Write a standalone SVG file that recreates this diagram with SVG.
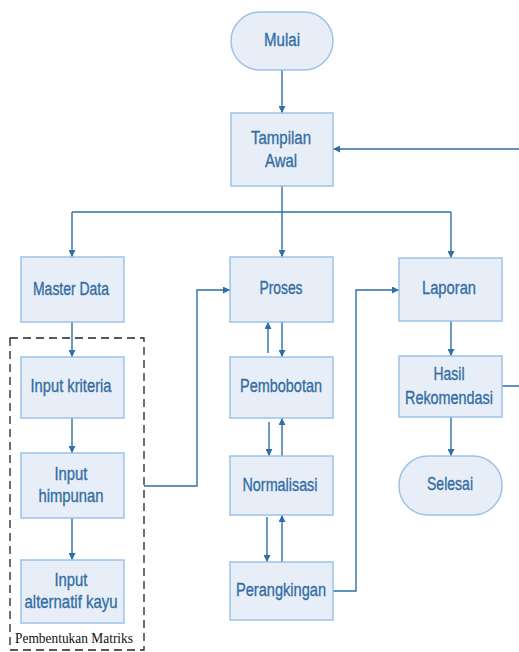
<svg xmlns="http://www.w3.org/2000/svg" width="519" height="652" viewBox="0 0 519 652">
<style>
.box{fill:#E7EEF8;stroke:#9CC2E8;stroke-width:1.5}
.t{font-family:"Liberation Sans",Arial,sans-serif;font-size:19px;fill:#336DA3;stroke:#336DA3;stroke-width:0.35;text-anchor:middle}
.c{fill:none;stroke:#2F6FA6;stroke-width:1.4}
.lbl{font-family:"Liberation Serif","Times New Roman",serif;font-size:15px;fill:#111}
</style>
<defs>
<marker id="ah" viewBox="0 0 10 10" refX="10" refY="5" markerWidth="7" markerHeight="7" markerUnits="userSpaceOnUse" orient="auto">
<path d="M0,0 L10,5 L0,10 z" fill="#2F6FA6"/>
</marker>
</defs>
<rect x="0" y="0" width="519" height="652" fill="#fff"/>
<g id="connectors">
<path class="c" d="M282,70 V113" marker-end="url(#ah)"/>
<path class="c" d="M282,186 V212"/>
<path class="c" d="M72,212 H451"/>
<path class="c" d="M72,212 V257" marker-end="url(#ah)"/>
<path class="c" d="M282,212 V257" marker-end="url(#ah)"/>
<path class="c" d="M451,212 V258" marker-end="url(#ah)"/>
<path class="c" d="M502,386 H522 V149 H333" marker-end="url(#ah)"/>
<path class="c" d="M72,322 V357" marker-end="url(#ah)"/>
<path class="c" d="M72,418 V453" marker-end="url(#ah)"/>
<path class="c" d="M72,518 V560" marker-end="url(#ah)"/>
<path class="c" d="M144,486 H197 V290 H230" marker-end="url(#ah)"/>
<path class="c" d="M268,353 V322" marker-end="url(#ah)"/>
<path class="c" d="M282,322 V357" marker-end="url(#ah)"/>
<path class="c" d="M269,422 V456" marker-end="url(#ah)"/>
<path class="c" d="M282,456 V418" marker-end="url(#ah)"/>
<path class="c" d="M267,517 V562" marker-end="url(#ah)"/>
<path class="c" d="M282,562 V515" marker-end="url(#ah)"/>
<path class="c" d="M333,591 H356 V290 H399" marker-end="url(#ah)"/>
<path class="c" d="M451,321 V356" marker-end="url(#ah)"/>
<path class="c" d="M451,417 V456" marker-end="url(#ah)"/>
</g>
<g id="group-pembentukan">
<rect x="10" y="338" width="134" height="312" fill="none" stroke="#222" stroke-width="1.3" stroke-dasharray="8,5"/>
<text class="lbl" x="74" y="643" text-anchor="middle" textLength="118" lengthAdjust="spacingAndGlyphs">Pembentukan Matriks</text>
</g>
<g id="mulai">
<rect class="box" x="231" y="12" width="102" height="58" rx="29"/>
<text class="t" x="282" y="46" textLength="36" lengthAdjust="spacingAndGlyphs">Mulai</text>
</g>
<g id="tampilan-awal">
<rect class="box" x="231" y="113" width="102" height="73"/>
<text class="t" x="281" y="144" textLength="60" lengthAdjust="spacingAndGlyphs">Tampilan</text>
<text class="t" x="281" y="167" textLength="32" lengthAdjust="spacingAndGlyphs">Awal</text>
</g>
<g id="master-data">
<rect class="box" x="21" y="257" width="103" height="65"/>
<text class="t" x="71" y="295" textLength="76" lengthAdjust="spacingAndGlyphs">Master Data</text>
</g>
<g id="input-kriteria">
<rect class="box" x="21" y="357" width="103" height="61"/>
<text class="t" x="71" y="392" textLength="81" lengthAdjust="spacingAndGlyphs">Input kriteria</text>
</g>
<g id="input-himpunan">
<rect class="box" x="21" y="453" width="103" height="65"/>
<text class="t" x="71" y="480" textLength="33" lengthAdjust="spacingAndGlyphs">Input</text>
<text class="t" x="71" y="502" textLength="65" lengthAdjust="spacingAndGlyphs">himpunan</text>
</g>
<g id="input-alternatif">
<rect class="box" x="21" y="560" width="103" height="63"/>
<text class="t" x="71" y="586" textLength="33" lengthAdjust="spacingAndGlyphs">Input</text>
<text class="t" x="71" y="608" textLength="93" lengthAdjust="spacingAndGlyphs">alternatif kayu</text>
</g>
<g id="proses">
<rect class="box" x="230" y="257" width="103" height="65"/>
<text class="t" x="281" y="294" textLength="43" lengthAdjust="spacingAndGlyphs">Proses</text>
</g>
<g id="pembobotan">
<rect class="box" x="230" y="357" width="103" height="61"/>
<text class="t" x="281" y="392" textLength="82" lengthAdjust="spacingAndGlyphs">Pembobotan</text>
</g>
<g id="normalisasi">
<rect class="box" x="230" y="456" width="103" height="59"/>
<text class="t" x="280" y="491" textLength="75" lengthAdjust="spacingAndGlyphs">Normalisasi</text>
</g>
<g id="perangkingan">
<rect class="box" x="230" y="562" width="103" height="58"/>
<text class="t" x="281" y="596" textLength="90" lengthAdjust="spacingAndGlyphs">Perangkingan</text>
</g>
<g id="laporan">
<rect class="box" x="399" y="258" width="103" height="63"/>
<text class="t" x="449" y="294" textLength="54" lengthAdjust="spacingAndGlyphs">Laporan</text>
</g>
<g id="hasil-rekomendasi">
<rect class="box" x="399" y="356" width="103" height="61"/>
<text class="t" x="449" y="380" textLength="31" lengthAdjust="spacingAndGlyphs">Hasil</text>
<text class="t" x="449" y="404" textLength="88" lengthAdjust="spacingAndGlyphs">Rekomendasi</text>
</g>
<g id="selesai">
<rect class="box" x="399" y="456" width="103" height="59" rx="29"/>
<text class="t" x="450" y="490" textLength="46" lengthAdjust="spacingAndGlyphs">Selesai</text>
</g>
</svg>
